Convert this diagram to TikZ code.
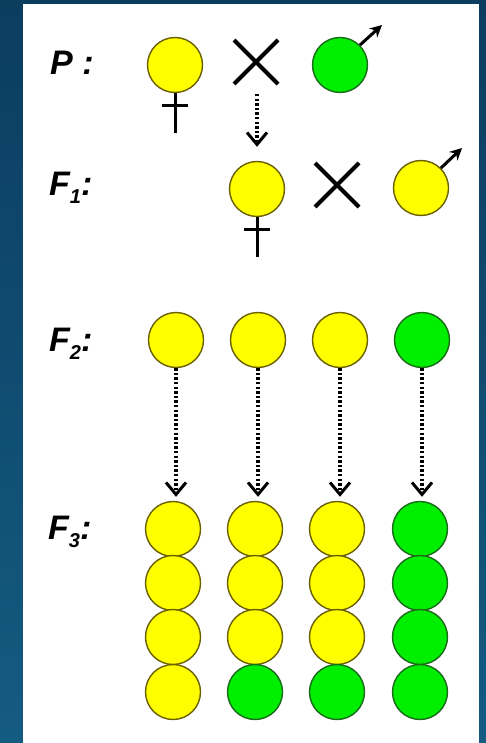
\documentclass[tikz,border=0pt]{standalone}
\usepackage{fontspec}
\setmainfont{Liberation Sans}
\usetikzlibrary{arrows.meta,shapes.misc}
\definecolor{bgtop}{HTML}{0B3D5F}
\definecolor{bgbot}{HTML}{145B82}
\definecolor{yel}{HTML}{FFFF00}
\definecolor{yelline}{HTML}{6B6000}
\definecolor{grn}{HTML}{00EE00}
\definecolor{grnline}{HTML}{1A6A1A}
\newcommand{\gensub}[1]{\raisebox{-8pt}{\fontsize{20}{21}\selectfont #1}}
\tikzset{
  pea/.style={circle, inner sep=0pt, minimum size=55pt, line width=1.4pt},
  yp/.style={pea, fill=yel, draw=yelline},
  gp/.style={pea, fill=grn, draw=grnline},
  crossmark/.style={cross out, draw=black, line width=4pt, minimum size=40pt, inner sep=0pt},
  sexline/.style={line width=3pt, black},
  malearrow/.style={line width=3pt, black, -{Stealth[length=12pt,width=12pt]}},
  dotarrow/.style={line width=3.2pt, black, dash pattern=on 2.4pt off 2.2pt,
     -{Straight Barb[length=12pt,width=20pt,line width=3pt]}},
  genlabel/.style={anchor=base west, inner sep=0pt, font=\fontsize{34}{38}\selectfont\bfseries\itshape}
}
\begin{document}
\begin{tikzpicture}[x=1pt,y=-1pt]
\useasboundingbox (0,0) rectangle (486,743);
\shade[top color=bgtop, bottom color=bgbot] (0,0) rectangle (486,743);
\fill[white] (23,4) rectangle (479,743);

% labels
\node[genlabel] (lp) at (50,75) {P :};
\node[genlabel] (lf1) at (49,196) {F\gensub{1}:};
\node[genlabel] (lf2) at (49,351) {F\gensub{2}:};
\node[genlabel] (lf3) at (48,539) {F\gensub{3}:};

% P generation
\node[yp] (pf) at (175,65) {};
\node[crossmark] (px) at (256,62) {};
\node[gp] (pm) at (340,65) {};
\coordinate (pfb) at (175,133);
\coordinate (pfl) at (162,106);
\coordinate (pfr) at (188,106);
\draw[sexline] (pf.south) -- (pfb);
\draw[sexline] (pfl) -- (pfr);
\coordinate (pmt) at (382,25);
\draw[malearrow] (pm.north east) -- (pmt);

% F1 generation
\node[yp] (ff) at (257,189) {};
\node[crossmark] (fx) at (337,185) {};
\node[yp] (fm) at (421,188) {};
\coordinate (ffb) at (257,257);
\coordinate (ffl) at (244,229);
\coordinate (ffr) at (270,229);
\draw[sexline] (ff.south) -- (ffb);
\draw[sexline] (ffl) -- (ffr);
\coordinate (fmt) at (462,148);
\draw[malearrow] (fm.north east) -- (fmt);

\draw[dotarrow, shorten <=10pt, shorten >=14pt] (px.south -| ff.north) -- (ff.north);

% F2 generation
\node[yp] (sa) at (176,340) {};
\node[yp] (sb) at (258,340) {};
\node[yp] (sc) at (340,340) {};
\node[gp] (sd) at (422,340) {};

% F3 generation
\node[yp] (ta1) at (173,529) {};
\node[yp] (ta2) at (173,583) {};
\node[yp] (ta3) at (173,637) {};
\node[yp] (ta4) at (173,692) {};
\node[yp] (tb1) at (255,529) {};
\node[yp] (tb2) at (255,583) {};
\node[yp] (tb3) at (255,637) {};
\node[gp] (tb4) at (255,692) {};
\node[yp] (tc1) at (337,529) {};
\node[yp] (tc2) at (337,583) {};
\node[yp] (tc3) at (337,637) {};
\node[gp] (tc4) at (337,692) {};
\node[gp] (td1) at (420,529) {};
\node[gp] (td2) at (420,583) {};
\node[gp] (td3) at (420,637) {};
\node[gp] (td4) at (420,692) {};

\draw[dotarrow, shorten >=4pt] (sa.south) -- (sa.south |- ta1.north);
\draw[dotarrow, shorten >=4pt] (sb.south) -- (sb.south |- tb1.north);
\draw[dotarrow, shorten >=4pt] (sc.south) -- (sc.south |- tc1.north);
\draw[dotarrow, shorten >=4pt] (sd.south) -- (sd.south |- td1.north);
\end{tikzpicture}
\end{document}
